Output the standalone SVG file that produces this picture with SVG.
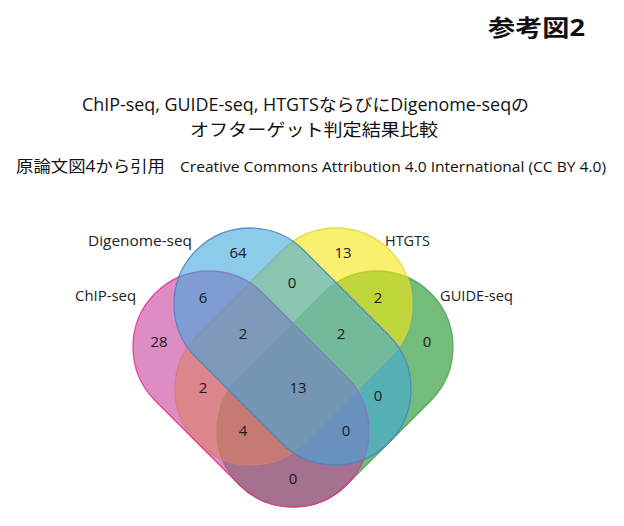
<svg xmlns="http://www.w3.org/2000/svg" width="624" height="526" viewBox="0 0 624 526">
<style>
.t{font-family:"Open Sans","Noto Sans CJK JP",sans-serif;fill:#111}
.lab{font-family:"Open Sans","Noto Sans",sans-serif;font-size:14.5px;fill:#222}
.num{font-family:"Open Sans","Noto Sans",sans-serif;font-size:15px;fill:#1a1a1a;text-anchor:middle}
.set{fill-opacity:0.6;stroke-width:1.3;stroke-opacity:0.85}
</style>
<rect width="624" height="526" fill="#fff"/>
<text class="t" x="488" y="36" font-size="23" font-weight="bold" textLength="97" lengthAdjust="spacingAndGlyphs">参考図2</text>
<text class="t" x="82" y="111" font-size="17.5" textLength="447" lengthAdjust="spacingAndGlyphs">ChIP-seq, GUIDE-seq, HTGTSならびにDigenome-seqの</text>
<text class="t" x="190" y="136" font-size="17.5" textLength="248" lengthAdjust="spacingAndGlyphs">オフターゲット判定結果比較</text>
<text class="t" x="16" y="172" font-size="15.5" textLength="149" lengthAdjust="spacingAndGlyphs">原論文図4から引用</text>
<text class="t" x="180" y="172" font-size="15" textLength="426" lengthAdjust="spacingAndGlyphs">Creative Commons Attribution 4.0 International (CC BY 4.0)</text>

<g id="venn">
<g id="guide-seq"><rect class="set" x="199.6" y="313" width="270.8" height="152" rx="76" fill="#178F21" stroke="#4F9F58" transform="rotate(-45 335 389)"/></g>
<g id="htgts"><rect class="set" x="157.4" y="270.5" width="272.2" height="152" rx="76" fill="#F3E60D" stroke="#E2D63A" transform="rotate(-45 293.5 346.5)"/></g>
<g id="chip-seq"><rect class="set" x="115.6" y="313" width="270.8" height="152" rx="76" fill="#C83F9D" stroke="#E3308F" transform="rotate(45 251 389)"/></g>
<g id="digenome-seq"><rect class="set" x="156.4" y="270.5" width="272.2" height="152" rx="76" fill="#3FA8DC" stroke="#4A82C2" transform="rotate(45 292.5 346.5)"/></g>
</g>

<g id="labels">
<text class="lab" x="88" y="246" textLength="104" lengthAdjust="spacingAndGlyphs">Digenome-seq</text>
<text class="lab" x="385" y="246" textLength="45" lengthAdjust="spacingAndGlyphs">HTGTS</text>
<text class="lab" x="75" y="301" textLength="61" lengthAdjust="spacingAndGlyphs">ChIP-seq</text>
<text class="lab" x="440" y="301" textLength="73" lengthAdjust="spacingAndGlyphs">GUIDE-seq</text>
</g>

<g id="counts">
<text class="num" x="238" y="258">64</text>
<text class="num" x="343" y="258">13</text>
<text class="num" x="292" y="288">0</text>
<text class="num" x="203" y="303">6</text>
<text class="num" x="378" y="303">2</text>
<text class="num" x="159" y="347">28</text>
<text class="num" x="427" y="347">0</text>
<text class="num" x="243" y="339">2</text>
<text class="num" x="341" y="339">2</text>
<text class="num" x="203" y="393">2</text>
<text class="num" x="298" y="393">13</text>
<text class="num" x="378" y="401">0</text>
<text class="num" x="243" y="436">4</text>
<text class="num" x="346" y="436">0</text>
<text class="num" x="293" y="484">0</text>
</g>
</svg>
